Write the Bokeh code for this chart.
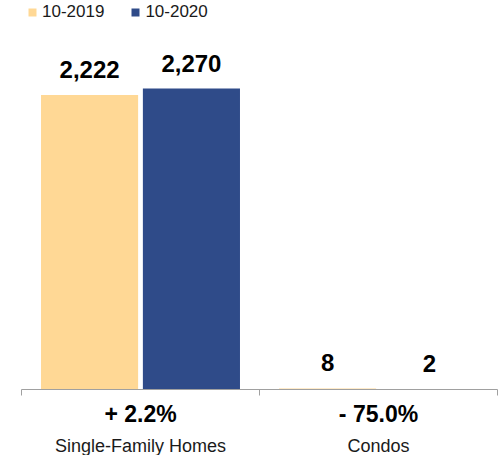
from bokeh.plotting import figure
from bokeh.models import (ColumnDataSource, Range1d, FixedTicker, LinearAxis,
                          LabelSet, Legend, LegendItem)
from bokeh.transform import dodge
from bokeh.core.properties import value
from bokeh.embed import file_html
from bokeh.resources import INLINE

categories = ["Single-Family Homes", "Condos"]
series_names = ["10-2019", "10-2020"]
sales_2019 = [2222, 8]
sales_2020 = [2270, 2]
pct_change = ["+ 2.2%", "- 75.0%"]

YELLOW = "#FFD895"
BLUE = "#2F4B89"
FONT = "Liberation Sans"

xc = [i + 0.5 for i in range(len(categories))]
src = ColumnDataSource(dict(
    xc=xc,
    v19=sales_2019,
    v20=sales_2020,
    t19=[f"{v:,}" for v in sales_2019],
    t20=[f"{v:,}" for v in sales_2020],
))

p = figure(frame_width=476, frame_height=389, output_backend="svg", toolbar_location=None,
           x_range=Range1d(0, len(categories)), y_range=Range1d(0, 2934),
           y_axis_location=None, x_axis_location=None,
           min_border_left=21, min_border_right=4, min_border_top=0,
           min_border_bottom=0)
p.outline_line_color = None
p.grid.visible = False
p.background_fill_color = None
p.border_fill_color = None

off = 0.214
w = 0.408
r19 = p.vbar(x=dodge("xc", -off, range=p.x_range), top="v19", width=w, source=src,
             fill_color=YELLOW, line_color=None)
r20 = p.vbar(x=dodge("xc", off, range=p.x_range), top="v20", width=w, source=src,
             fill_color=BLUE, line_color=None)

# baseline axis with group boundary ticks
bounds = list(range(len(categories) + 1))
axA = LinearAxis(ticker=FixedTicker(ticks=bounds))
axA.major_label_overrides = {b: "" for b in bounds}
axA.major_label_text_font_size = "1px"
axA.major_label_standoff = 0
axA.axis_line_color = "#A0A0A0"
axA.major_tick_line_color = "#A0A0A0"
axA.major_tick_out = 6
axA.major_tick_in = 0
axA.minor_tick_line_color = None
p.add_layout(axA, "below")

# percent change labels
axB = LinearAxis(ticker=FixedTicker(ticks=xc))
axB.major_label_overrides = dict(zip(xc, pct_change))
axB.axis_line_color = None
axB.major_tick_line_color = None
axB.minor_tick_line_color = None
axB.major_tick_out = 0
axB.major_tick_in = 0
axB.major_label_standoff = 5
axB.major_label_text_font = FONT
axB.major_label_text_font_style = "bold"
axB.major_label_text_font_size = "23px"
axB.major_label_text_color = "#000000"
p.add_layout(axB, "below")

# category labels
axC = LinearAxis(ticker=FixedTicker(ticks=xc))
axC.major_label_overrides = dict(zip(xc, categories))
axC.axis_line_color = None
axC.major_tick_line_color = None
axC.minor_tick_line_color = None
axC.major_tick_out = 0
axC.major_tick_in = 0
axC.major_label_standoff = 6
axC.major_label_text_font = FONT
axC.major_label_text_font_size = "18px"
axC.major_label_text_color = "#1a1a1a"
p.add_layout(axC, "below")

for col, txt, sign in (("v19", "t19", -1), ("v20", "t20", 1)):
    p.add_layout(LabelSet(x=dodge("xc", sign * off, range=p.x_range), y=col, text=txt,
                          source=src, text_align="center", text_baseline="alphabetic",
                          y_offset=17, text_font=value(FONT), text_font_style="bold",
                          text_font_size="24px", text_color="#000000"))

legend = Legend(items=[LegendItem(label=series_names[0], renderers=[r19]),
                       LegendItem(label=series_names[1], renderers=[r20])],
                orientation="horizontal")
legend.border_line_color = None
legend.background_fill_alpha = 0
legend.glyph_width = 10
legend.glyph_height = 10
legend.label_standoff = 5
legend.spacing = 26
legend.padding = 0
legend.margin = 0
legend.label_text_font = FONT
legend.label_text_font_size = "17px"
legend.label_text_color = "#1a1a1a"
legend.label_height = 12
legend.label_text_baseline = "middle"
legend.location = (6, 367)
p.add_layout(legend)

open("out.html", "w").write(file_html(p, INLINE))
